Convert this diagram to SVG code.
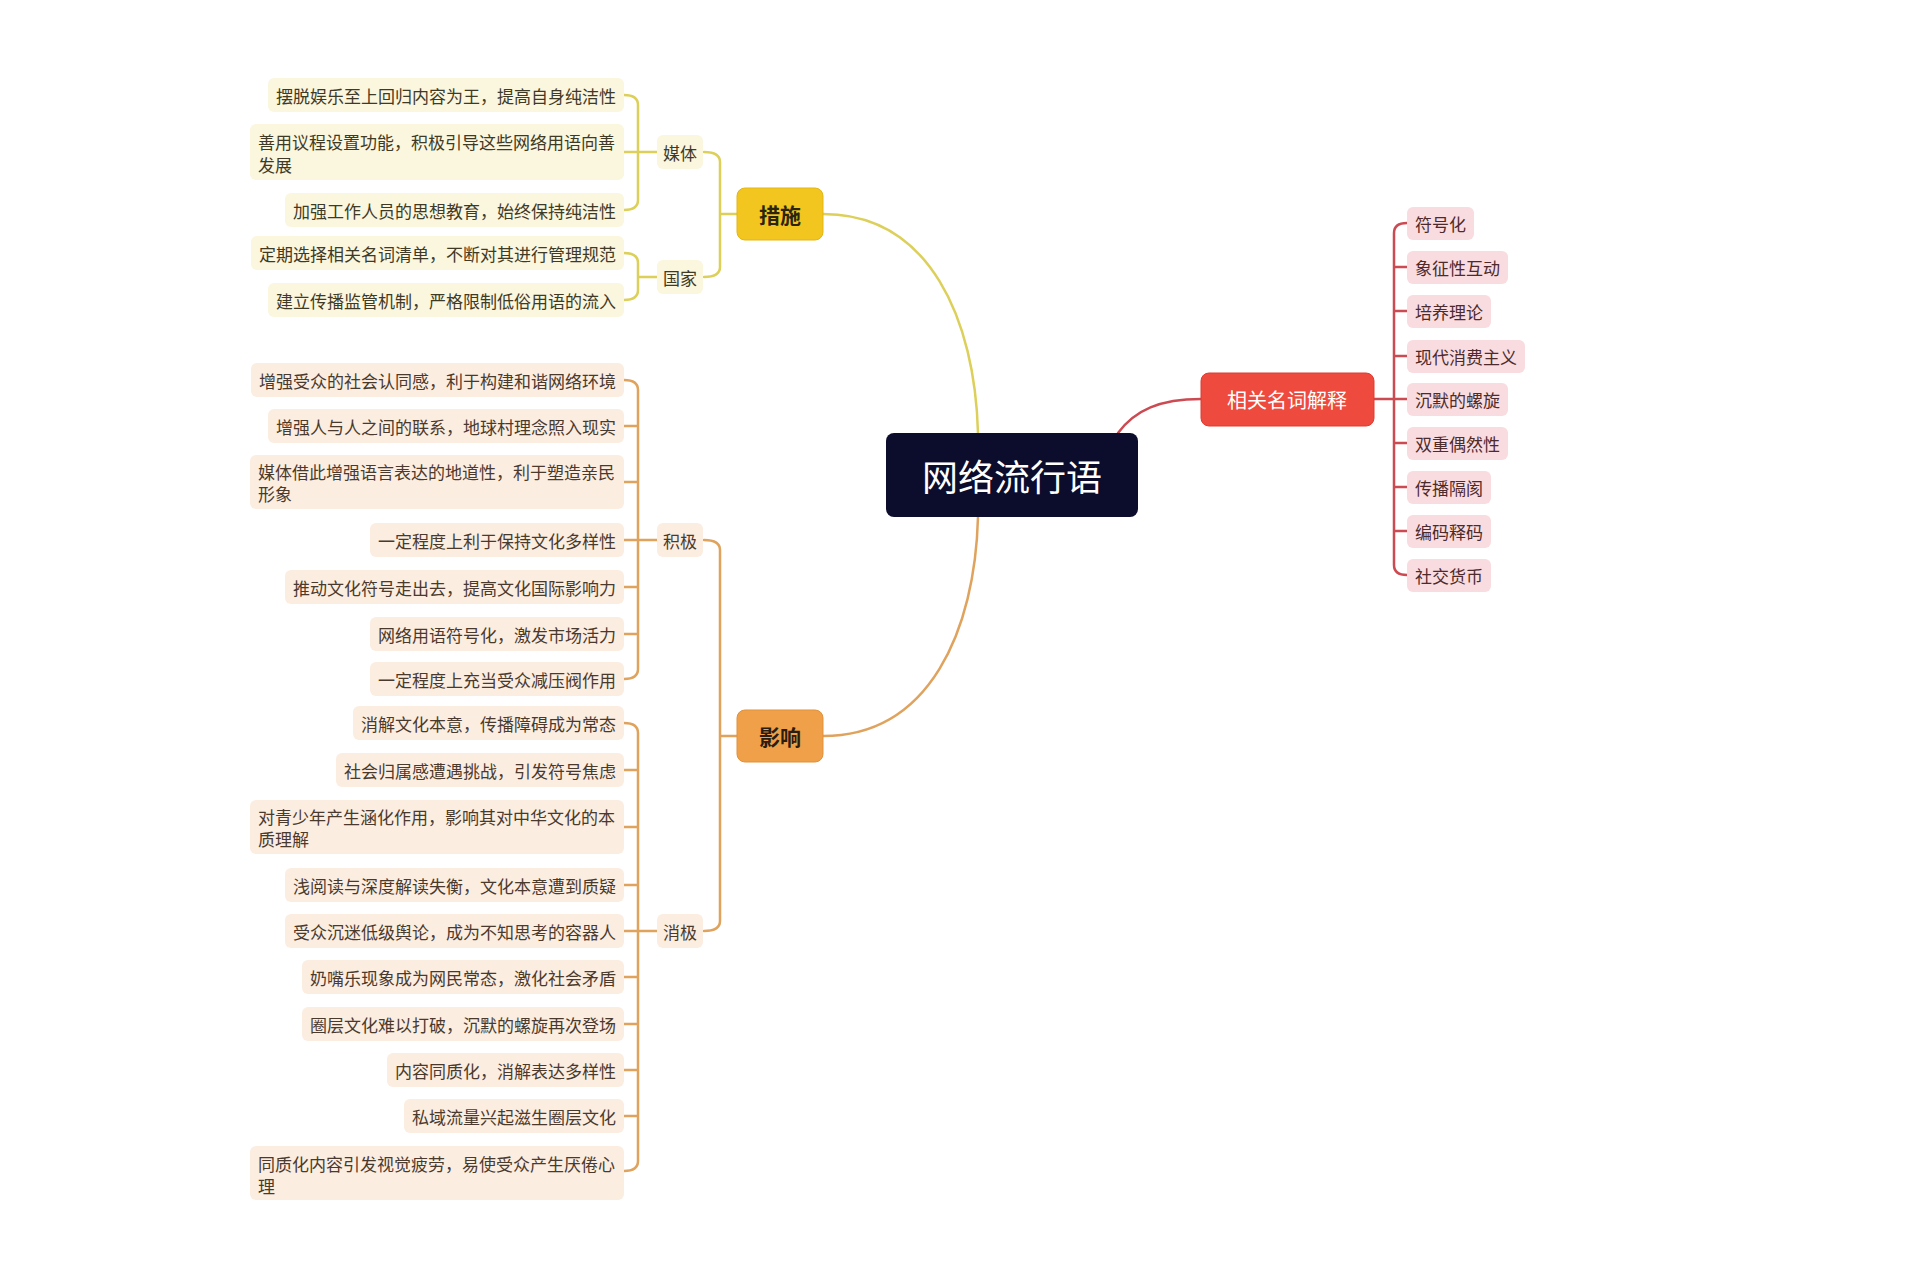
<svg xmlns="http://www.w3.org/2000/svg" width="1929" height="1280" viewBox="0 0 1929 1280">
<style>
text{font-family:"Noto Sans CJK SC","Noto Sans CJK TC",sans-serif;dominant-baseline:central}
.lf{font-size:17px}
.ly{fill:#FBF6DE}
.lo{fill:#FCEDE1}
.lp{fill:#F9DCE0}
.ty{fill:#3f3a26}
.to{fill:#4a3a2e}
.tp{fill:#4d2a2c}
.cy{fill:none;stroke:#DCD05A;stroke-width:2.5;stroke-linecap:round}
.co{fill:none;stroke:#DFA35E;stroke-width:2.5;stroke-linecap:round}
.cr{fill:none;stroke:#CC4A52;stroke-width:2.5;stroke-linecap:round}
.end{text-anchor:end}
.mid{text-anchor:middle}
</style>
<rect width="1929" height="1280" fill="#ffffff"/>
<g id="connectors">
<path class="cy" d="M823,214 C930,214 975,320 978,433" stroke-width="3"/>
<path class="co" d="M978,517 C975,630 930,736 823,736" stroke-width="3"/>
<path class="cr" d="M1118,433 C1135,410 1160,399 1201,399" stroke-width="3"/>
<path class="cy" d="M704,152 Q720,152 720,162 L720,267 Q720,277 704,277 M720,214 L737,214"/>
<path class="cy" d="M624,95 Q638,95 638,105 L638,200 Q638,210 624,210 M624,152 L657,152"/>
<path class="cy" d="M624,253 Q638,253 638,263 L638,290 Q638,300 624,300 M638,277 L657,277"/>
<path class="co" d="M704,540 Q720,540 720,550 L720,921 Q720,931 704,931 M720,736 L737,736"/>
<path class="co" d="M624,380 Q638,380 638,390 L638,669 Q638,679 624,679 M624,426 L638,426 M624,482 L638,482 M624,540 L657,540 M624,587 L638,587 M624,634 L638,634"/>
<path class="co" d="M624,723 Q638,723 638,733 L638,1161 Q638,1171 624,1171 M624,770 L638,770 M624,827 L638,827 M624,885 L638,885 M624,931 L657,931 M624,977 L638,977 M624,1024 L638,1024 M624,1070 L638,1070 M624,1116 L638,1116"/>
<path class="cr" d="M1407,223 Q1394,223 1394,233 L1394,565 Q1394,575 1407,575 M1394,267 L1407,267 M1394,311 L1407,311 M1394,356 L1407,356 M1374,399 L1407,399 M1394,443 L1407,443 M1394,487 L1407,487 M1394,531 L1407,531"/>
</g>
<g id="center"><rect x="886" y="433" width="252" height="84" rx="8" fill="#0C0C2C"/><text x="1012" y="475" class="mid" font-size="36" fill="#ffffff">网络流行语</text></g>
<g id="cuoshi"><rect x="737" y="188" width="86" height="52" rx="8" fill="#F2C61E" stroke="#E3B512" stroke-width="1"/><text x="780" y="214" class="mid" font-size="21" font-weight="bold" fill="#2b2410">措施</text></g>
<g id="yingxiang"><rect x="737" y="710" width="86" height="52" rx="8" fill="#F0A048" stroke="#E0913A" stroke-width="1"/><text x="780" y="736" class="mid" font-size="21" font-weight="bold" fill="#2b1d10">影响</text></g>
<g id="mingci"><rect x="1201" y="373" width="173" height="53" rx="8" fill="#EE4A3D" stroke="#DD3C30" stroke-width="1"/><text x="1287" y="399" class="mid" font-size="20" fill="#ffffff">相关名词解释</text></g>

<g id="meiti"><rect x="657" y="135" width="46" height="34" rx="6" class="ly"/><text x="680" y="152" class="lf mid ty">媒体</text></g>
<g id="guojia"><rect x="657" y="260" width="46" height="34" rx="6" class="ly"/><text x="680" y="277" class="lf mid ty">国家</text></g>
<g id="jiji"><rect x="657" y="523" width="46" height="34" rx="6" class="lo"/><text x="680" y="540" class="lf mid to">积极</text></g>
<g id="xiaoji"><rect x="657" y="914" width="46" height="34" rx="6" class="lo"/><text x="680" y="931" class="lf mid to">消极</text></g>

<g id="m1"><rect x="268" y="78" width="356" height="34" rx="6" class="ly"/><text x="616" y="95" class="lf end ty">摆脱娱乐至上回归内容为王，提高自身纯洁性</text></g>
<g id="m2"><rect x="250" y="124" width="374" height="56" rx="6" class="ly"/><text x="258" y="141" class="lf ty">善用议程设置功能，积极引导这些网络用语向善</text><text x="258" y="164" class="lf ty">发展</text></g>
<g id="m3"><rect x="285" y="193" width="339" height="34" rx="6" class="ly"/><text x="616" y="210" class="lf end ty">加强工作人员的思想教育，始终保持纯洁性</text></g>
<g id="g1"><rect x="251" y="236" width="373" height="34" rx="6" class="ly"/><text x="616" y="253" class="lf end ty">定期选择相关名词清单，不断对其进行管理规范</text></g>
<g id="g2"><rect x="268" y="283" width="356" height="34" rx="6" class="ly"/><text x="616" y="300" class="lf end ty">建立传播监管机制，严格限制低俗用语的流入</text></g>

<g id="j1"><rect x="251" y="363" width="373" height="34" rx="6" class="lo"/><text x="616" y="380" class="lf end to">增强受众的社会认同感，利于构建和谐网络环境</text></g>
<g id="j2"><rect x="268" y="409" width="356" height="34" rx="6" class="lo"/><text x="616" y="426" class="lf end to">增强人与人之间的联系，地球村理念照入现实</text></g>
<g id="j3"><rect x="250" y="455" width="374" height="54" rx="6" class="lo"/><text x="258" y="471" class="lf to">媒体借此增强语言表达的地道性，利于塑造亲民</text><text x="258" y="493" class="lf to">形象</text></g>
<g id="j4"><rect x="370" y="523" width="254" height="34" rx="6" class="lo"/><text x="616" y="540" class="lf end to">一定程度上利于保持文化多样性</text></g>
<g id="j5"><rect x="285" y="570" width="339" height="34" rx="6" class="lo"/><text x="616" y="587" class="lf end to">推动文化符号走出去，提高文化国际影响力</text></g>
<g id="j6"><rect x="370" y="617" width="254" height="34" rx="6" class="lo"/><text x="616" y="634" class="lf end to">网络用语符号化，激发市场活力</text></g>
<g id="j7"><rect x="370" y="662" width="254" height="34" rx="6" class="lo"/><text x="616" y="679" class="lf end to">一定程度上充当受众减压阀作用</text></g>

<g id="x1"><rect x="353" y="706" width="271" height="34" rx="6" class="lo"/><text x="616" y="723" class="lf end to">消解文化本意，传播障碍成为常态</text></g>
<g id="x2"><rect x="336" y="753" width="288" height="34" rx="6" class="lo"/><text x="616" y="770" class="lf end to">社会归属感遭遇挑战，引发符号焦虑</text></g>
<g id="x3"><rect x="250" y="800" width="374" height="54" rx="6" class="lo"/><text x="258" y="816" class="lf to">对青少年产生涵化作用，影响其对中华文化的本</text><text x="258" y="838" class="lf to">质理解</text></g>
<g id="x4"><rect x="285" y="868" width="339" height="34" rx="6" class="lo"/><text x="616" y="885" class="lf end to">浅阅读与深度解读失衡，文化本意遭到质疑</text></g>
<g id="x5"><rect x="285" y="914" width="339" height="34" rx="6" class="lo"/><text x="616" y="931" class="lf end to">受众沉迷低级舆论，成为不知思考的容器人</text></g>
<g id="x6"><rect x="302" y="960" width="322" height="34" rx="6" class="lo"/><text x="616" y="977" class="lf end to">奶嘴乐现象成为网民常态，激化社会矛盾</text></g>
<g id="x7"><rect x="302" y="1007" width="322" height="34" rx="6" class="lo"/><text x="616" y="1024" class="lf end to">圈层文化难以打破，沉默的螺旋再次登场</text></g>
<g id="x8"><rect x="387" y="1053" width="237" height="34" rx="6" class="lo"/><text x="616" y="1070" class="lf end to">内容同质化，消解表达多样性</text></g>
<g id="x9"><rect x="404" y="1099" width="220" height="34" rx="6" class="lo"/><text x="616" y="1116" class="lf end to">私域流量兴起滋生圈层文化</text></g>
<g id="x10"><rect x="250" y="1146" width="374" height="54" rx="6" class="lo"/><text x="258" y="1163" class="lf to">同质化内容引发视觉疲劳，易使受众产生厌倦心</text><text x="258" y="1185" class="lf to">理</text></g>

<g id="r1"><rect x="1407" y="207" width="67" height="33" rx="6" class="lp"/><text x="1415" y="223" class="lf tp">符号化</text></g>
<g id="r2"><rect x="1407" y="251" width="101" height="33" rx="6" class="lp"/><text x="1415" y="267" class="lf tp">象征性互动</text></g>
<g id="r3"><rect x="1407" y="295" width="84" height="33" rx="6" class="lp"/><text x="1415" y="311" class="lf tp">培养理论</text></g>
<g id="r4"><rect x="1407" y="340" width="118" height="33" rx="6" class="lp"/><text x="1415" y="356" class="lf tp">现代消费主义</text></g>
<g id="r5"><rect x="1407" y="383" width="101" height="33" rx="6" class="lp"/><text x="1415" y="399" class="lf tp">沉默的螺旋</text></g>
<g id="r6"><rect x="1407" y="427" width="101" height="33" rx="6" class="lp"/><text x="1415" y="443" class="lf tp">双重偶然性</text></g>
<g id="r7"><rect x="1407" y="471" width="84" height="33" rx="6" class="lp"/><text x="1415" y="487" class="lf tp">传播隔阂</text></g>
<g id="r8"><rect x="1407" y="515" width="84" height="33" rx="6" class="lp"/><text x="1415" y="531" class="lf tp">编码释码</text></g>
<g id="r9"><rect x="1407" y="559" width="84" height="33" rx="6" class="lp"/><text x="1415" y="575" class="lf tp">社交货币</text></g>
</svg>
